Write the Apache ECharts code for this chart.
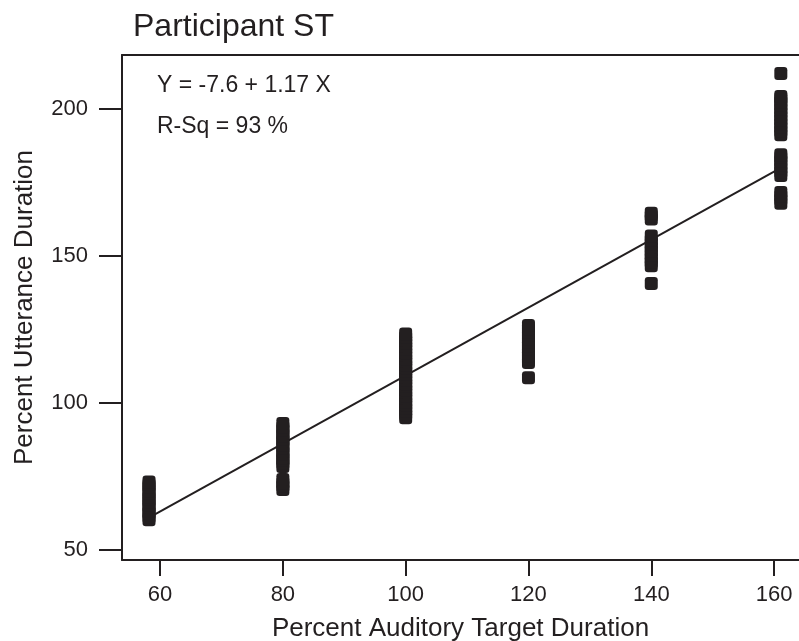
<!DOCTYPE html>
<html>
<head>
<meta charset="utf-8">
<title>Participant ST</title>
<script src="https://cdn.jsdelivr.net/npm/echarts@6/dist/echarts.min.js"></script>
<style>
  html, body { margin: 0; padding: 0; background: #fff; }
  #chart { width: 799px; height: 641px; }
</style>
</head>
<body>
<div id="chart"></div>
<script>
// x position of each column of trials (percent auditory target duration)
const targetX = [58.2, 80, 100, 120, 140, 161.1];
// utterance durations, bottom to top
const col58 = [60.3, 61.2, 62.4, 63.1, 64.5, 65.2, 66.4, 67.3, 68.1, 69.4, 70.2, 71.5, 72.3, 73.1];
const col80 = [70.6, 71.8, 72.7, 74, 78.4, 79.5, 80.6, 81.4, 82.7, 83.5, 84.8, 85.6, 86.9, 87.7, 88.8, 89.6, 90.9, 91.8, 93];
const col100 = [95, 96.1, 97.3, 98.2, 99.4, 100.3, 101.5, 102.4, 103.6, 104.5, 105.7, 106.6, 107.8, 108.7,
  109.9, 110.8, 112, 112.9, 114.1, 115, 116.2, 117.1, 118.3, 119.2, 120.4, 121.3, 122.5, 123.5];
const col120 = [108.6, 113.8, 114.9, 116.1, 117.2, 118.4, 119.5, 120.7, 121.8, 123, 124.1, 125.3, 126.4];
const col140 = [140.7, 146.7, 147.9, 149.2, 150.4, 151.7, 152.9, 154.2, 155.5, 156.8, 162.6, 163.7, 164.6];
const col161 = [168, 169.2, 170.5, 171.6, 177.4, 178.6, 179.9, 181.1, 182.4, 183.6, 184.5,
  191.3, 192.5, 193.8, 195, 196.3, 197.5, 198.8, 200, 201.3, 202.5, 203.6, 204.3, 212.1];
// fitted regression line, end points
const fitX = [58.2, 161.1];
const fitY = [61, 180];
// tick labels
const xTicks = [60, 80, 100, 120, 140, 160];
const yTicks = [50, 100, 150, 200];

const ink = "#231f20";
const font = '"Liberation Sans", Arial, Helvetica, sans-serif';

const columns = [col58, col80, col100, col120, col140, col161];
const points = [];
columns.forEach((col, i) => {
  col.forEach((v) => points.push([targetX[i], v]));
});
const fitLine = fitX.map((x, i) => [x, fitY[i]]);

const chart = echarts.init(document.getElementById("chart"), null, { renderer: "canvas" });

const xMin = 53.8;
const xMax = 164.06;

const option = {
  animation: false,
  backgroundColor: "#fff",
  textStyle: { fontFamily: font, color: ink },
  title: {
    text: "Participant ST",
    left: 133,
    top: 11,
    padding: 0,
    textStyle: { fontFamily: font, fontSize: 32, fontWeight: "normal", color: ink },
  },
  grid: {
    left: 122,
    top: 55,
    right: 0, // no right border in the original, the frame runs off the page
    bottom: 81,
    outerBoundsMode: "none", // keep the grid where it is, labels may sit near the edge
  },
  xAxis: [
    {
      type: "value",
      min: xMin,
      max: xMax,
      name: "Percent Auditory Target Duration",
      nameLocation: "middle",
      nameGap: 56,
      nameTextStyle: { fontFamily: font, fontSize: 26, color: ink },
      axisLine: { show: true, lineStyle: { color: ink, width: 2 } },
      axisTick: { show: true, customValues: xTicks, length: 16, lineStyle: { color: ink, width: 2 } },
      axisLabel: { customValues: xTicks, fontSize: 22, margin: 24, color: ink, fontFamily: font },
      splitLine: { show: false },
    },
    {
      // top frame line only
      type: "value",
      position: "top",
      min: xMin,
      max: xMax,
      axisLine: { show: true, lineStyle: { color: ink, width: 2 } },
      axisTick: { show: false },
      axisLabel: { show: false },
      splitLine: { show: false },
    },
  ],
  yAxis: {
    type: "value",
    min: 46.6,
    max: 218.4,
    name: "Percent Utterance Duration",
    nameLocation: "middle",
    nameGap: 84,
    nameTextStyle: { fontFamily: font, fontSize: 26, color: ink },
    axisLine: { show: true, lineStyle: { color: ink, width: 2 } },
    axisTick: { show: true, customValues: yTicks, length: 23, lineStyle: { color: ink, width: 2 } },
    axisLabel: { customValues: yTicks, fontSize: 22, margin: 34, color: ink, fontFamily: font },
    splitLine: { show: false },
  },
  graphic: [
    {
      type: "text",
      left: 157,
      top: 74,
      style: { text: "Y = -7.6 + 1.17 X", font: "23px " + font, fill: ink },
    },
    {
      type: "text",
      left: 157,
      top: 115,
      style: { text: "R-Sq = 93 %", font: "23px " + font, fill: ink },
    },
  ],
  series: [
    {
      name: "fit",
      type: "line",
      data: fitLine,
      symbol: "none",
      lineStyle: { color: ink, width: 2 },
      z: 2,
    },
    {
      name: "trials",
      type: "scatter",
      data: points,
      symbol: "roundRect",
      symbolSize: [13, 13],
      itemStyle: { color: ink, opacity: 1 },
      z: 3,
    },
  ],
};

chart.setOption(option);
</script>
</body>
</html>
